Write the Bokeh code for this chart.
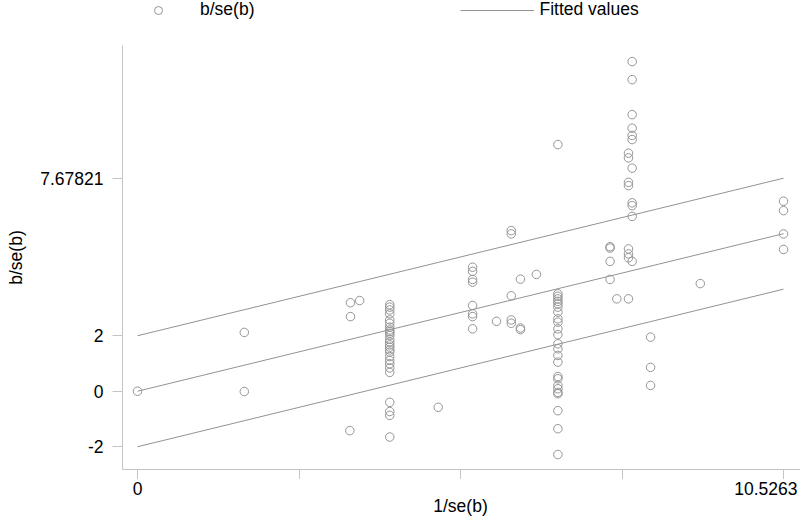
from bokeh.plotting import figure
from bokeh.layouts import column
from bokeh.models import Range1d, FixedTicker, Legend, LegendItem
from bokeh.core.properties import value
from bokeh.embed import file_html
from bokeh.resources import INLINE

# ---- data ----
x_inv_se = (
    [0.0]
    + [1.74, 1.74]
    + [3.47, 3.62, 3.47, 3.46]
    + [4.11] * 26
    + [4.90]
    + [5.46] * 8
    + [5.85]
    + [6.09] * 5
    + [6.24] * 3
    + [6.50]
    + [6.85] * 25
    + [7.70] * 4
    + [7.81]
    + [8.00] * 8
    + [8.06] * 11
    + [8.36] * 3
    + [9.17]
    + [10.5263] * 4
)
y_b_se = (
    [0.0]
    + [2.12, -0.01]
    + [3.19, 3.27, 2.69, -1.42]
    + [3.12, 3.03, 2.93, 2.79, 2.57, 2.45, 2.31, 2.15, 2.09, 2.01, 1.87, 1.77,
       1.67, 1.59, 1.49, 1.41, 1.25, 1.11, 0.99, 0.84, 0.68, -0.40, -0.73,
       -0.87, -1.65, 2.21]
    + [-0.58]
    + [4.47, 4.32, 4.03, 3.93, 3.09, 2.79, 2.69, 2.25]
    + [2.52]
    + [5.79, 5.67, 3.44, 2.57, 2.45]
    + [4.04, 2.28, 2.22]
    + [4.21]
    + [8.89, 3.51, 3.42, 3.33, 3.24, 3.15, 3.03, 2.85, 2.61, 2.49, 2.25, 2.04,
       1.71, 1.53, 1.29, 1.05, 0.53, 0.45, 0.21, 0.09, -0.04, -0.09, -0.70,
       -1.35, -2.28]
    + [5.21, 5.16, 4.68, 4.03]
    + [3.33]
    + [8.58, 8.41, 7.53, 7.41, 5.13, 4.95, 4.81, 3.33]
    + [11.88, 11.23, 9.97, 9.48, 9.22, 9.07, 8.04, 6.79, 6.69, 6.30, 4.68]
    + [1.95, 0.86, 0.21]
    + [3.88]
    + [6.85, 6.51, 5.67, 5.11]
)
slope = 0.53943
intercepts = [-2.0, 0.0, 2.0]

x_ticks = [0.0, 2.631575, 5.26315, 7.894725, 10.5263]
x_tick_labels = ["0", "", "", "", "10.5263"]
y_ticks = [-2.0, 0.0, 2.0, 7.67821]
y_tick_labels = ["-2", "0", "2", "7.67821"]
x_title = "1/se(b)"
y_title = "b/se(b)"
legend_labels = ["b/se(b)", "Fitted values"]

FONT = "Liberation Sans"
FS = "17.5px"
AXIS_GRAY = "#c4c4c4"
MARK_GRAY = "#959595"
LINE_GRAY = "#939393"
LEFT = 122
FRAME_W = 678

x_max = max(x_inv_se)
line_xs = [[0.0, x_max] for _ in intercepts]
line_ys = [[c, c + slope * x_max] for c in intercepts]

common = dict(output_backend="svg", toolbar_location=None, title=None)
x_rng = Range1d(-0.2444, 10.803)

# ---------------- legend strip ----------------
lg = figure(frame_width=FRAME_W, height=45, x_axis_type=None, y_axis_type=None,
            x_range=Range1d(0, 1), y_range=Range1d(0, 1),
            min_border_left=LEFT, min_border_right=0, min_border_top=0,
            min_border_bottom=0, **common)
lg.outline_line_color = None
lg.grid.visible = False
# legend proxies, placed outside the visible range (only their key is shown)
d_sc = lg.scatter(x=[-9], y=[-9], marker="circle", size=8.5, fill_color=None,
                  line_color=MARK_GRAY, line_width=1)
d_ml = lg.multi_line(xs=[[-9, -8]], ys=[[-9, -9]], line_color=LINE_GRAY,
                     line_width=1)
legend = Legend(items=[LegendItem(label=legend_labels[0], renderers=[d_sc]),
                       LegendItem(label=legend_labels[1], renderers=[d_ml])],
                orientation="horizontal", location=(-1, 25),
                glyph_width=74, glyph_height=20, label_standoff=5,
                spacing=206, padding=0, margin=0,
                border_line_color=None, background_fill_alpha=0,
                label_text_font=FONT, label_text_font_size=FS,
                label_text_color="black")
lg.add_layout(legend, "center")

# ---------------- main plot ----------------
p = figure(frame_width=FRAME_W, frame_height=424,
           x_range=x_rng, y_range=Range1d(-2.82, 12.46),
           min_border_left=LEFT, min_border_right=0, min_border_top=0,
           min_border_bottom=10, **common)
p.outline_line_color = None
p.xgrid.visible = False
p.ygrid.visible = False

p.multi_line(xs=line_xs, ys=line_ys, line_color=LINE_GRAY, line_width=1)
p.scatter(x_inv_se, y_b_se, marker="circle", size=8.5, fill_color=None,
          line_color=MARK_GRAY, line_width=1)

for ax in (p.xaxis[0], p.yaxis[0]):
    ax.axis_line_color = AXIS_GRAY
    ax.major_tick_line_color = AXIS_GRAY
    ax.major_tick_out = 10
    ax.major_tick_in = 0
    ax.minor_tick_out = 0
    ax.minor_tick_in = 0
    ax.major_label_text_font = FONT
    ax.major_label_text_font_size = FS
    ax.major_label_text_color = "black"
    ax.axis_label_text_font = FONT
    ax.axis_label_text_font_size = FS
    ax.axis_label_text_font_style = "normal"
    ax.axis_label_text_color = "black"

p.xaxis.ticker = FixedTicker(ticks=x_ticks)
p.xaxis.major_label_text_font_size = "0px"   # labels drawn in the strip below
p.xaxis.major_label_standoff = 0

p.yaxis.ticker = FixedTicker(ticks=y_ticks)
p.yaxis.major_label_overrides = dict(zip(y_ticks, y_tick_labels))
p.yaxis.major_label_standoff = 9
p.yaxis.axis_label = y_title
p.yaxis.axis_label_standoff = 11

# ---------------- x tick labels + x title strip ----------------
cap = figure(frame_width=FRAME_W, frame_height=37, x_axis_type=None,
             y_axis_type=None, x_range=x_rng, y_range=Range1d(37, 0),
             min_border_left=LEFT, min_border_right=0, min_border_top=0,
             min_border_bottom=0, **common)
cap.outline_line_color = None
cap.grid.visible = False
cap.text(x=[x_ticks[0]], y=[2], text=[x_tick_labels[0]], text_align="center",
         text_baseline="top", text_font=value(FONT), text_font_size=FS,
         text_color="black")
cap.text(x=[x_ticks[-1]], y=[2], text=[x_tick_labels[-1]], text_align="right",
         text_baseline="top", x_offset=14, text_font=value(FONT),
         text_font_size=FS, text_color="black")
cap.text(x=[x_ticks[-1] / 2], y=[36], text=[x_title], text_align="center",
         text_baseline="bottom", text_font=value(FONT), text_font_size=FS,
         text_color="black")

layout = column(lg, p, cap, spacing=0)
open("out.html", "w").write(file_html(layout, INLINE))
